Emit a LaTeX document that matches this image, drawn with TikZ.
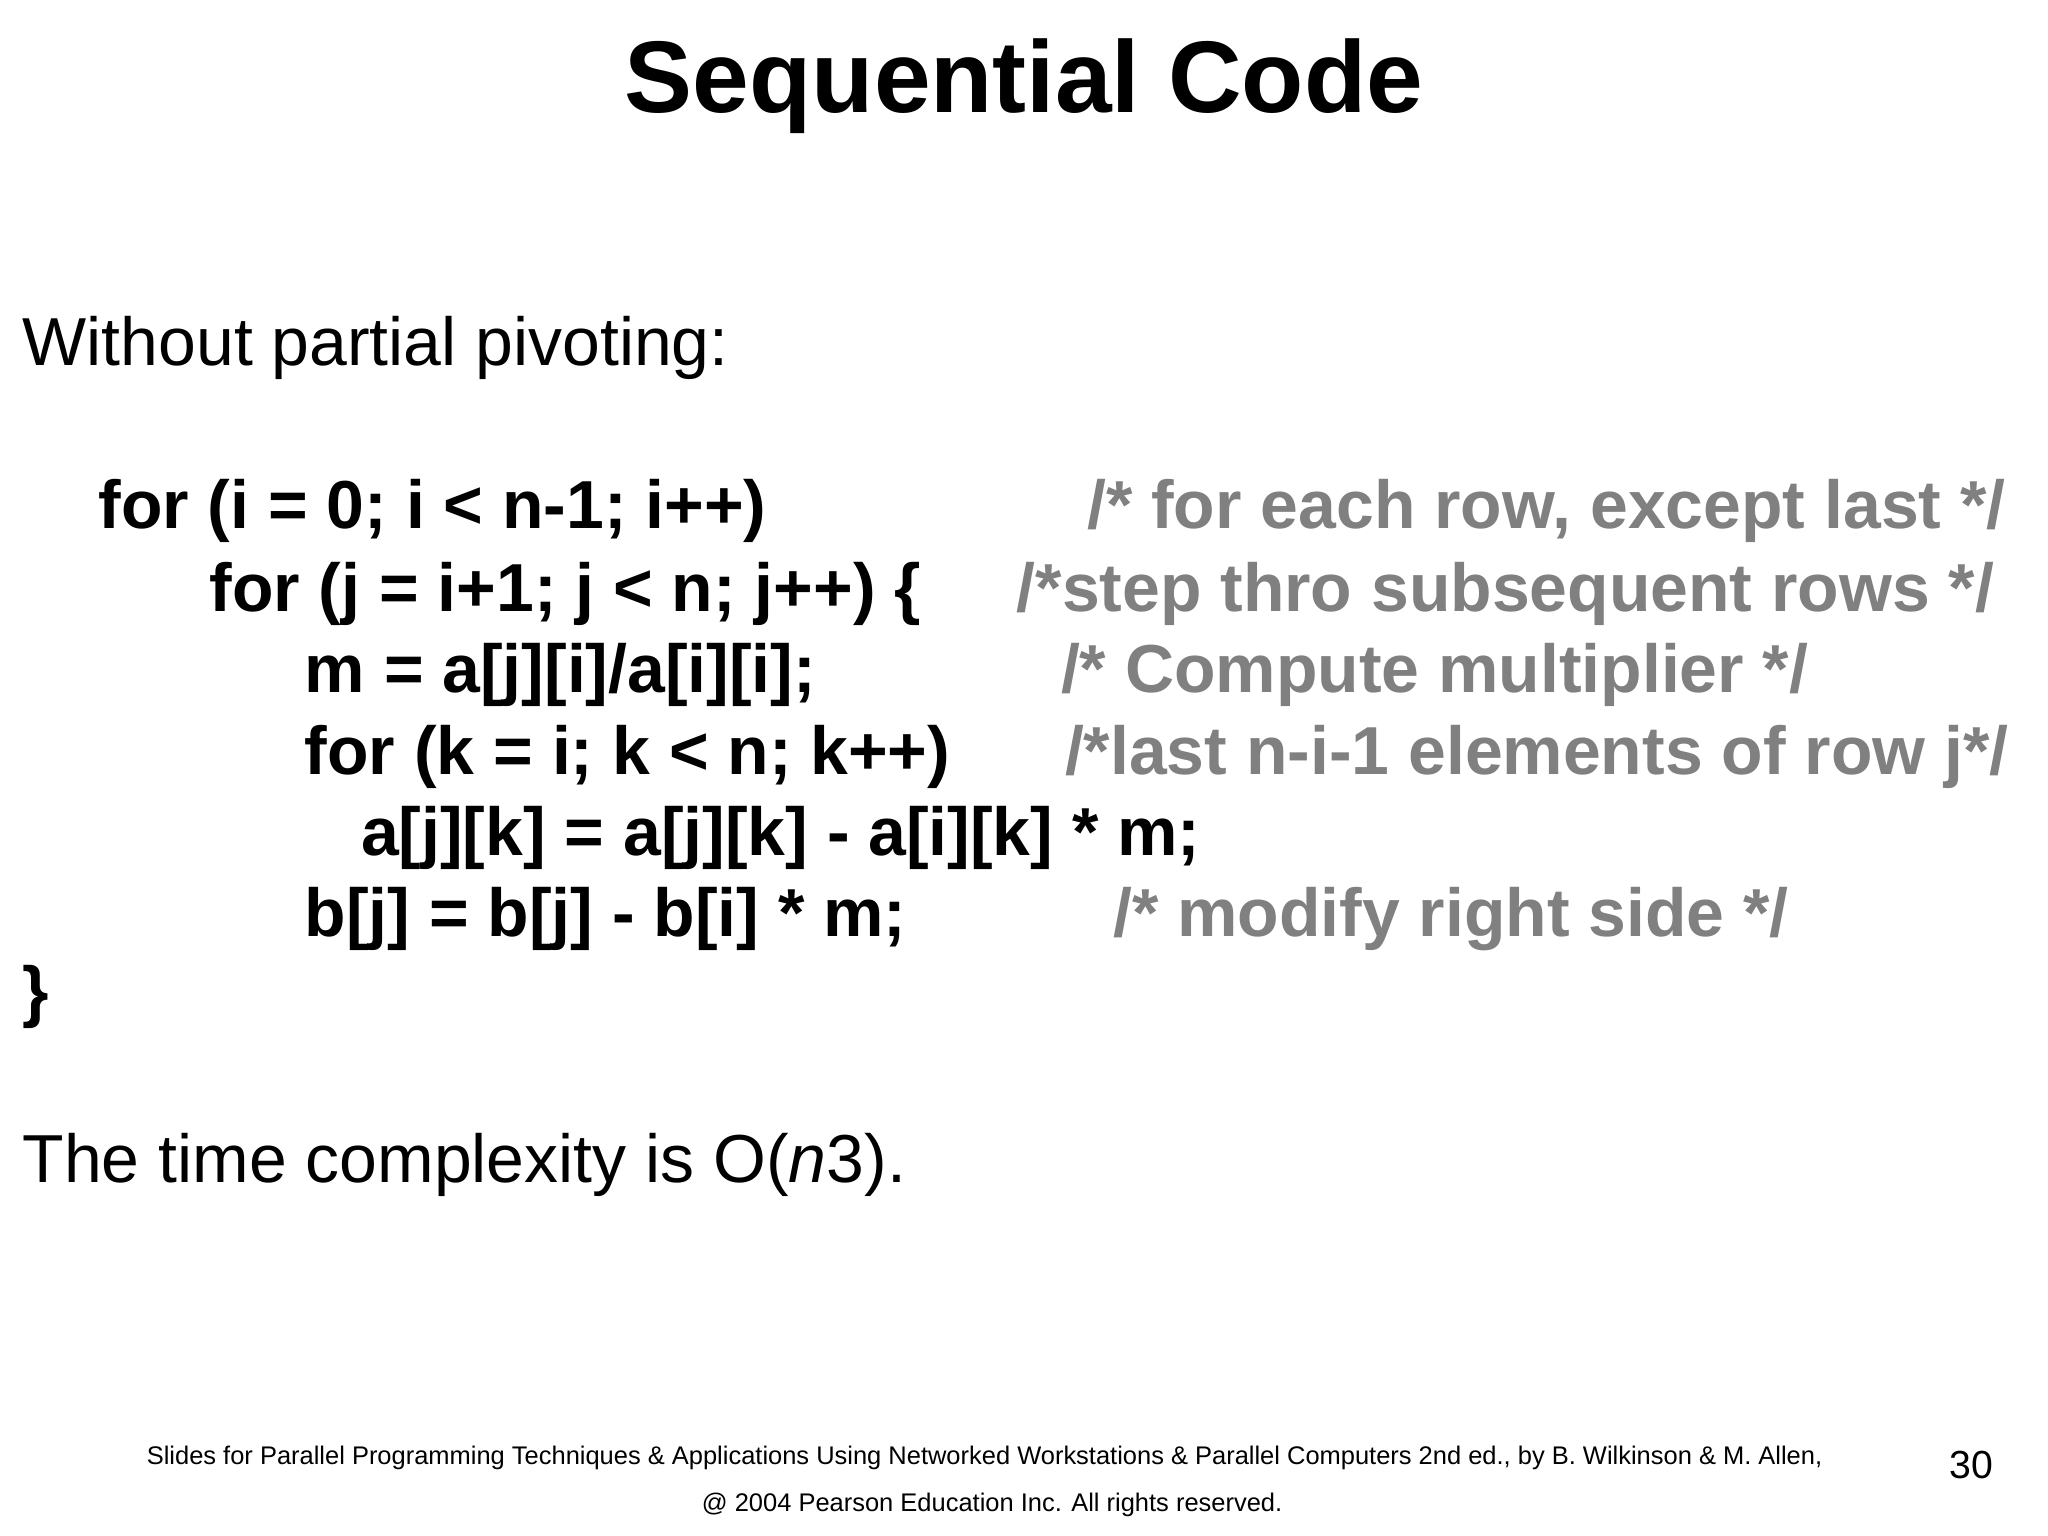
\documentclass[tikz,border=0pt]{standalone}
\usepackage{fontspec}
\setmainfont{Liberation Sans}
\definecolor{cmt}{RGB}{128,128,128}
\begin{document}
\begin{tikzpicture}[x=0.5pt,y=-0.5pt,
  txt/.style={anchor=base west,inner sep=0pt,font=\fontsize{26}{30}\selectfont},
  code/.style={txt,font=\fontsize{26}{30}\selectfont\bfseries},
  cmnt/.style={code,text=cmt},
  foot/.style={anchor=base west,inner sep=0pt,font=\fontsize{9.75}{12}\selectfont}]
\useasboundingbox[fill=white] (0,0) rectangle (1568,1176);
\node[anchor=base,inner sep=0pt,font=\fontsize{39}{44}\selectfont\bfseries] (title) at (784,86) {Sequential Code};
\node[txt] (intro) at (17,280) {Without partial pivoting:};
\node[code] (l1) at (75,405) {for (i = 0; i < n-1; i++)};
\node[code] (l2) at (160,468) {for (j = i+1; j < n; j++) \{};
\node[code] (l3) at (233,530) {m = a[j][i]/a[i][i];};
\node[code] (l4) at (233,593) {for (k = i; k < n; k++)};
\node[code] (l5) at (276,655) {a[j][k] = a[j][k] - a[i][k] * m;};
\node[code] (l6) at (233,717) {b[j] = b[j] - b[i] * m;};
\node[code] (l7) at (17,777) {\}};
\node[cmnt] (c1) at (832,405) {/* for each row, except last */};
\node[cmnt] (c2) at (778,468) {/*step thro subsequent rows */};
\node[cmnt] (c3) at (812,530) {/* Compute multiplier */};
\node[cmnt] (c4) at (815,593) {/*last n-i-1 elements of row j*/};
\node[cmnt] (c6) at (852,717) {/* modify right side */};
\node[txt] (cx) at (17,905) {The time complexity is O(\textit{n}3).};
\node[foot] (f1) at (112,1121) {Slides for Parallel Programming Techniques \& Applications Using Networked Workstations \& Parallel Computers 2nd ed., by B. Wilkinson \& M. Allen,};
\node[foot] (f2) at (537,1157) {@ 2004 Pearson Education Inc. All rights reserved.};
\node[anchor=base west,inner sep=0pt,font=\fontsize{15}{17}\selectfont] (pg) at (1492,1132) {30};
\end{tikzpicture}
\end{document}
